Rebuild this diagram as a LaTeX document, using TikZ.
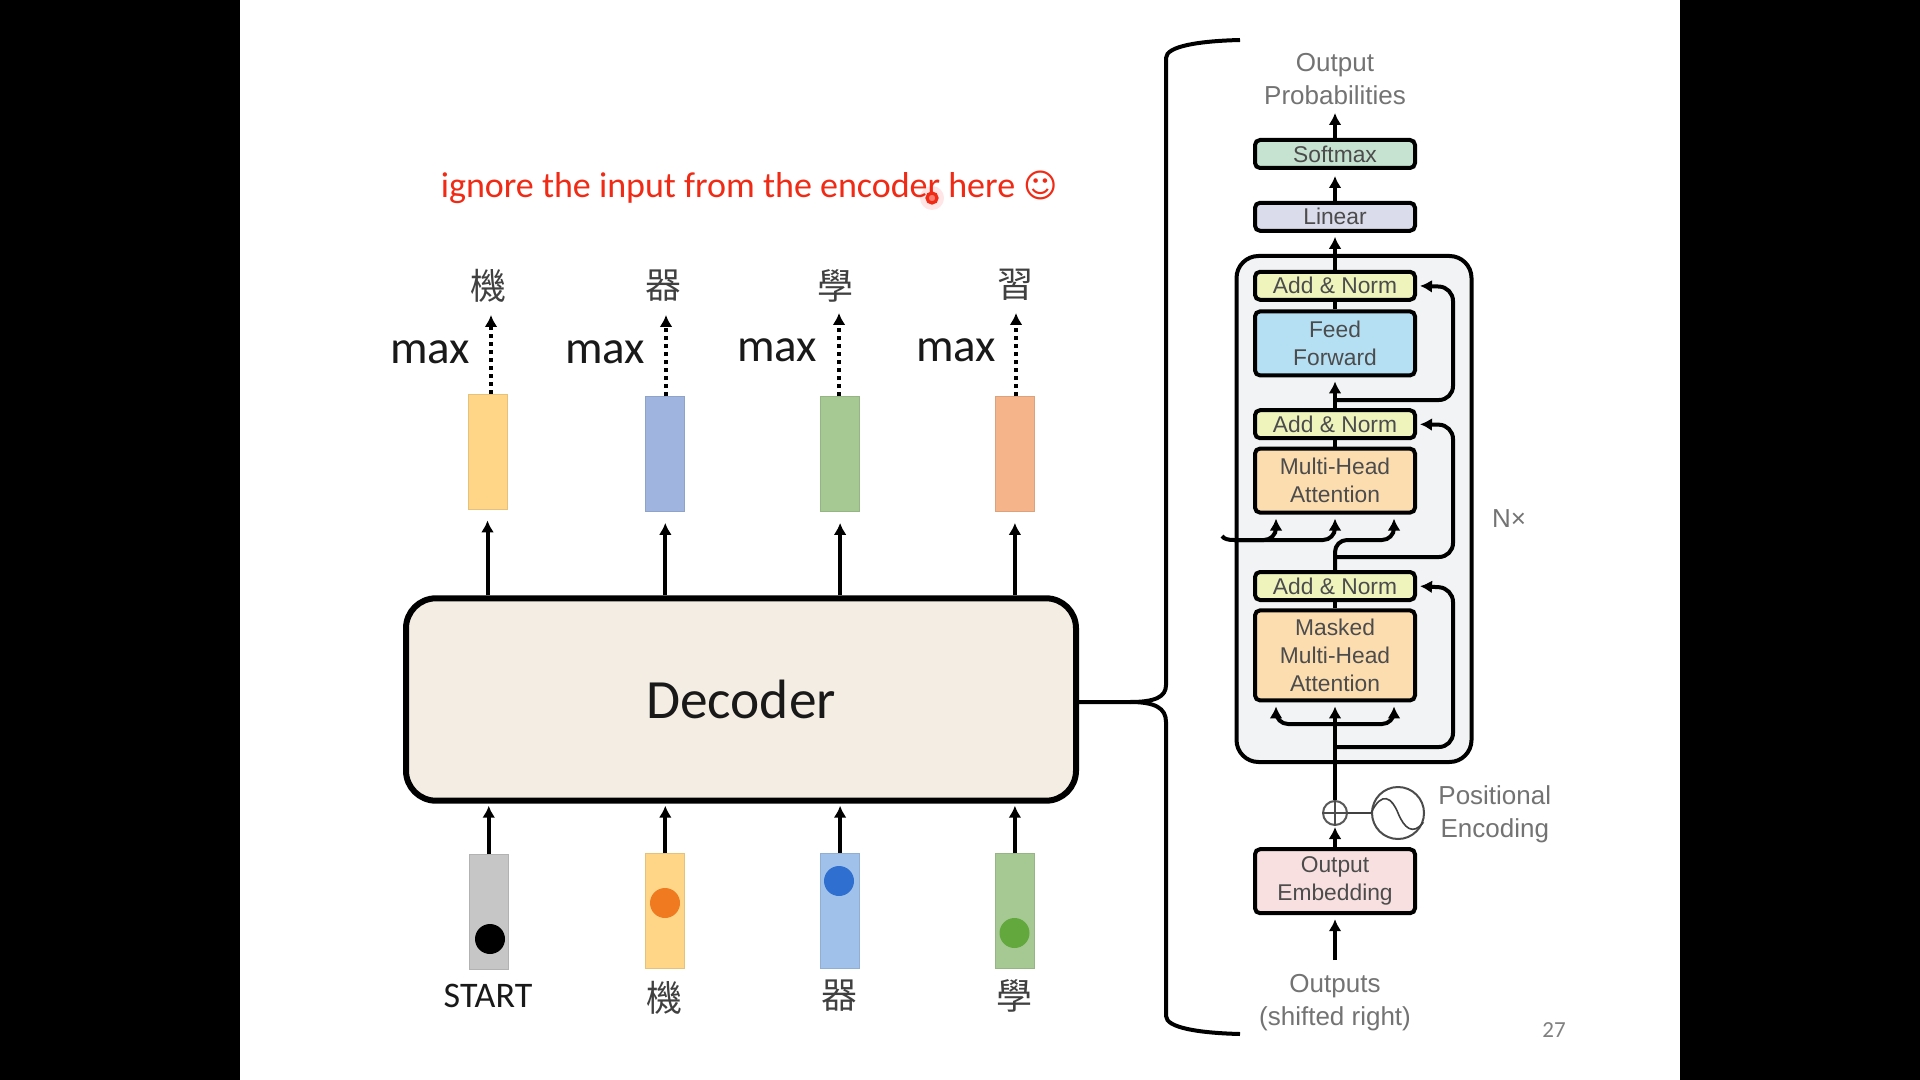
\documentclass[tikz,border=0pt]{standalone}
\usepackage{fontspec}
\setmainfont{Carlito}
\newfontfamily\armfont{Liberation Sans}
\newfontfamily\hanfont{Noto Sans CJK TC}
\newfontfamily\symfont{DejaVu Sans}
\usetikzlibrary{arrows.meta,positioning}
\definecolor{softgreen}{HTML}{C5E3D0}
\definecolor{lineargray}{HTML}{DADCEC}
\definecolor{normyellow}{HTML}{EEF4BC}
\definecolor{feedblue}{HTML}{B5E0F4}
\definecolor{attnorange}{HTML}{FCDDB0}
\definecolor{embedpink}{HTML}{F8E0E0}
\definecolor{stackgray}{HTML}{F2F3F4}
\definecolor{deccream}{HTML}{F4EDE4}
\definecolor{titlered}{HTML}{F02A14}
\definecolor{baryellow}{HTML}{FFD688}
\definecolor{barblue}{HTML}{9FB5E0}
\definecolor{barsky}{HTML}{A0C2EA}
\definecolor{bargreen}{HTML}{A6C994}
\definecolor{barorange}{HTML}{F5B48A}
\definecolor{bargray}{HTML}{C6C6C6}
\definecolor{beadorange}{HTML}{F07A20}
\definecolor{beadblue}{HTML}{2F6FD0}
\definecolor{beadgreen}{HTML}{62A83C}
\tikzset{
  bar/.style={rectangle, minimum width=19.5pt, minimum height=57.5pt, inner sep=0pt, draw=#1!90!black, fill=#1},
  bead/.style={circle, minimum size=15pt, inner sep=0pt},
  hanzi/.style={font=\hanfont\fontsize{18}{18}\selectfont, text=black!75, inner sep=0pt},
  maxlbl/.style={font=\fontsize{23.5}{24}\selectfont, text=black!90, inner sep=0pt},
  layer/.style={rectangle, draw, line width=2pt, rounded corners=2.5pt, minimum width=80pt, inner sep=0pt, align=center,
    text=black!70, font=\armfont\fontsize{11.4}{14}\selectfont},
  thin box/.style={layer, minimum height=14pt},
  tag/.style={align=center, text=black!55, inner sep=0pt, font=\armfont\fontsize{13}{16.5}\selectfont},
  arr/.style={-{Latex[length=6pt,width=6.5pt]}, line width=2pt},
  wire/.style={line width=2pt},
  dotarr/.style={arr, dash pattern=on 2pt off 2pt}
}
\begin{document}
\begin{tikzpicture}[x=0.5pt,y=-0.5pt]
\useasboundingbox (0,0) rectangle (1920,1080);
\fill[white] (0,0) rectangle (1920,1080);
\fill[black] (0,0) rectangle (240,1080);
\fill[black] (1680,0) rectangle (1920,1080);

% left part
\node[font=\fontsize{18}{18}\selectfont, text=titlered, inner sep=0pt] (title) at (728,188) {ignore the input from the encoder here};
\node[font=\symfont\fontsize{16.5}{18}\selectfont, text=titlered, inner sep=0pt, right=3.5pt of title, yshift=1.5pt] (smile) {☺};
\node[circle, fill=red, opacity=0.1, minimum size=12pt, inner sep=0pt] (glow) at (932,198) {};
\node[circle, draw=titlered, line width=1.6pt, fill=titlered!60, minimum size=5pt, inner sep=0pt] (laser) at (932,198) {};

\node[rectangle, draw, line width=3pt, rounded corners=15pt, fill=deccream, minimum width=335pt, minimum height=101.2pt,
  font=\fontsize{27.7}{30}\selectfont, text=black!90] (decoder) at (741,699.5) {Decoder};

\node[bar=baryellow] (top1) at (487.5,451.5) {};
\node[bar=barblue, right=69pt of top1, yshift=-1.25pt] (top2) {};
\node[bar=bargreen, right=67.5pt of top2] (top3) {};
\node[bar=barorange, right=67.5pt of top3] (top4) {};

\node[hanzi] (out1) at (488,286) {機};
\node[hanzi] (out2) at (663,286) {器};
\node[hanzi] (out3) at (835,286) {學};
\node[hanzi] (out4) at (1015,285) {習};

\node[maxlbl] (max1) at (430,352) {max};
\node[maxlbl] (max2) at (605,352) {max};
\node[maxlbl] (max3) at (777,350) {max};
\node[maxlbl] (max4) at (956,350) {max};

\node[bar=bargray] (in1) at (488.75,911.5) {};
\node[bar=baryellow, below=170.5pt of top2] (in2) {};
\node[bar=barsky, below=170.5pt of top3] (in3) {};
\node[bar=bargreen, below=170.5pt of top4] (in4) {};

\node[bead, fill=black] (dot1) at (490,939) {};
\node[bead, fill=beadorange] (dot2) at (665,903) {};
\node[bead, fill=beadblue] (dot3) at (839,881) {};
\node[bead, fill=beadgreen] (dot4) at (1014.5,933) {};

\node[font=\fontsize{18}{18}\selectfont, text=black!90, inner sep=0pt] (start) at (488,996) {START};
\node[hanzi] (lab2) at (664,998) {機};
\node[hanzi] (lab3) at (839,996) {器};
\node[hanzi] (lab4) at (1014,996) {學};

\coordinate (tip1) at (491,315);
\coordinate (tip2) at (666,315);
\coordinate (tip3) at (839,313);
\coordinate (tip4) at (1016,313);
\draw[dotarr] (top1.north -| tip1) -- (tip1);
\draw[dotarr] (top2.north -| tip2) -- (tip2);
\draw[dotarr] (top3.north -| tip3) -- (tip3);
\draw[dotarr] (top4.north -| tip4) -- (tip4);

\draw[arr, shorten >=5.5pt] (decoder.north -| top1.south) -- (top1.south);
\draw[arr, shorten >=5.5pt] (decoder.north -| top2.south) -- (top2.south);
\draw[arr, shorten >=5.5pt] (decoder.north -| top3.south) -- (top3.south);
\draw[arr, shorten >=5.5pt] (decoder.north -| top4.south) -- (top4.south);

\draw[arr, shorten >=1pt] (in1.north) -- (in1.north |- decoder.south);
\draw[arr, shorten >=1pt] (in2.north) -- (in2.north |- decoder.south);
\draw[arr, shorten >=1pt] (in3.north) -- (in3.north |- decoder.south);
\draw[arr, shorten >=1pt] (in4.north) -- (in4.north |- decoder.south);

% brace
\coordinate (braceA) at (1240,40);
\coordinate (braceB) at (1240,1034);
\coordinate (braceC) at (1130,702);
\draw[wire] (decoder.east |- braceC) -- (braceC) .. controls (1155,702) and (1166,697) .. (1166,685) -- (1166,58) .. controls (1166,46) and (1200,41) .. (braceA);
\draw[wire] (braceC) .. controls (1155,702) and (1166,708) .. (1166,722) -- (1166,1016) .. controls (1166,1028) and (1200,1033) .. (braceB);

% right part
\node[rectangle, draw, line width=2pt, rounded corners=11pt, fill=stackgray, minimum width=117.5pt, minimum height=253pt] (stack) at (1354,509) {};
\node[thin box, fill=normyellow] (an3) at (1335,586) {Add \& Norm};
\node[layer, fill=attnorange, minimum height=45pt, below=3.2pt of an3] (masked) {Masked\\Multi-Head\\Attention};
\node[layer, fill=attnorange, minimum height=32pt, above=27.7pt of an3] (mha) {Multi-Head\\Attention};
\node[thin box, fill=normyellow, above=3.2pt of mha] (an2) {Add \& Norm};
\node[layer, fill=feedblue, minimum height=32pt, above=15.4pt of an2] (ff) {Feed\\Forward};
\node[thin box, fill=normyellow, above=3.8pt of ff] (an1) {Add \& Norm};
\node[thin box, fill=lineargray, above=18.5pt of an1] (linear) {Linear};
\node[thin box, fill=softgreen, above=15.4pt of linear] (softmax) {Softmax};
\node[layer, fill=embedpink, minimum height=32pt, below=72.4pt of masked] (embed) {Output\\Embedding};

\node[tag] (probs) at (1335,79) {Output\\Probabilities};
\node[tag] (outs) at (1335,1003) {Outputs\\(shifted right)};
\node[tag, anchor=west] (pos) at (1438,814) {Positional\\Encoding};
\node[tag] (nx) at (1509,519) {N×};
\node[font=\fontsize{11.5}{12}\selectfont, text=black!50, inner sep=0pt] (page) at (1554,1030) {27};

\node[circle, draw=black!65, line width=1pt, minimum size=12pt, inner sep=0pt] (plus) at (1335,813) {};
\node[circle, draw=black!70, line width=1pt, minimum size=26pt, inner sep=0pt] (sine) at (1398,813) {};
\draw[black!70, line width=0.8pt] (plus.north) -- (plus.south);
\draw[black!70, line width=0.8pt] (plus.west) -- (plus.east);
\draw[black!75, line width=0.8pt] (sine.west) .. controls (1382,790) and (1392,798) .. (sine.center) .. controls (1404,828) and (1413,836) .. (sine.-20);
\draw[black!75, line width=1.2pt] (plus.east) -- (sine.west);

\coordinate (probsTip) at (1335,113);
\coordinate (outsTail) at (1335,960);
\draw[arr] (softmax.north) -- (probsTip);
\draw[arr, shorten >=3pt] (linear.north) -- (softmax.south);
\draw[arr, shorten >=2pt] (an1.north) -- (linear.south);
\draw[wire] (ff.north) -- (an1.south);
\draw[arr, shorten >=2pt] (an2.north) -- (ff.south);
\draw[wire] (mha.north) -- (an2.south);
\draw[wire] (masked.north) -- (an3.south);
\draw[arr, shorten >=2pt] (outsTail) -- (embed.south);
\draw[arr, shorten >=0.5pt] (embed.north) -- (plus.south);
\draw[arr, shorten >=2pt] (plus.north) -- (masked.south);

% residual lines
\coordinate (res1) at (1335,400);
\coordinate (rail1) at (1453,287);
\coordinate (res2) at (1335,557);
\coordinate (rail2) at (1453,425);
\coordinate (res3) at (1335,747);
\coordinate (rail3) at (1453,588);
\draw[arr, rounded corners=7pt, shorten >=1.5pt] (res1) -| (rail1) -- (an1.east);
\draw[arr, rounded corners=7pt, shorten >=1.5pt] (res2) -| (rail2) -- (an2.east);
\draw[arr, rounded corners=7pt, shorten >=1.5pt] (res3) -| (rail3) -- (an3.east);

% attention inputs
\coordinate (enc) at (1222,536);
\coordinate (bus) at (1234,540);
\coordinate (split) at (1335,724);
\draw[wire] (enc) .. controls (1224,539) and (1228,540) .. (bus);
\draw[arr, rounded corners=6pt, shorten >=2pt] (bus) -| ([xshift=-29.5pt]mha.south);
\draw[arr, rounded corners=6pt, shorten >=2pt] (bus) -| (mha.south);
\draw[arr, rounded corners=6pt, shorten >=2pt] (an3.north) -- (1335,540) -| ([xshift=29.5pt]mha.south);
\draw[arr, rounded corners=6pt, shorten >=2pt] (split) -| ([xshift=-29.5pt]masked.south);
\draw[arr, rounded corners=6pt, shorten >=2pt] (split) -| ([xshift=29.5pt]masked.south);
\end{tikzpicture}
\end{document}
